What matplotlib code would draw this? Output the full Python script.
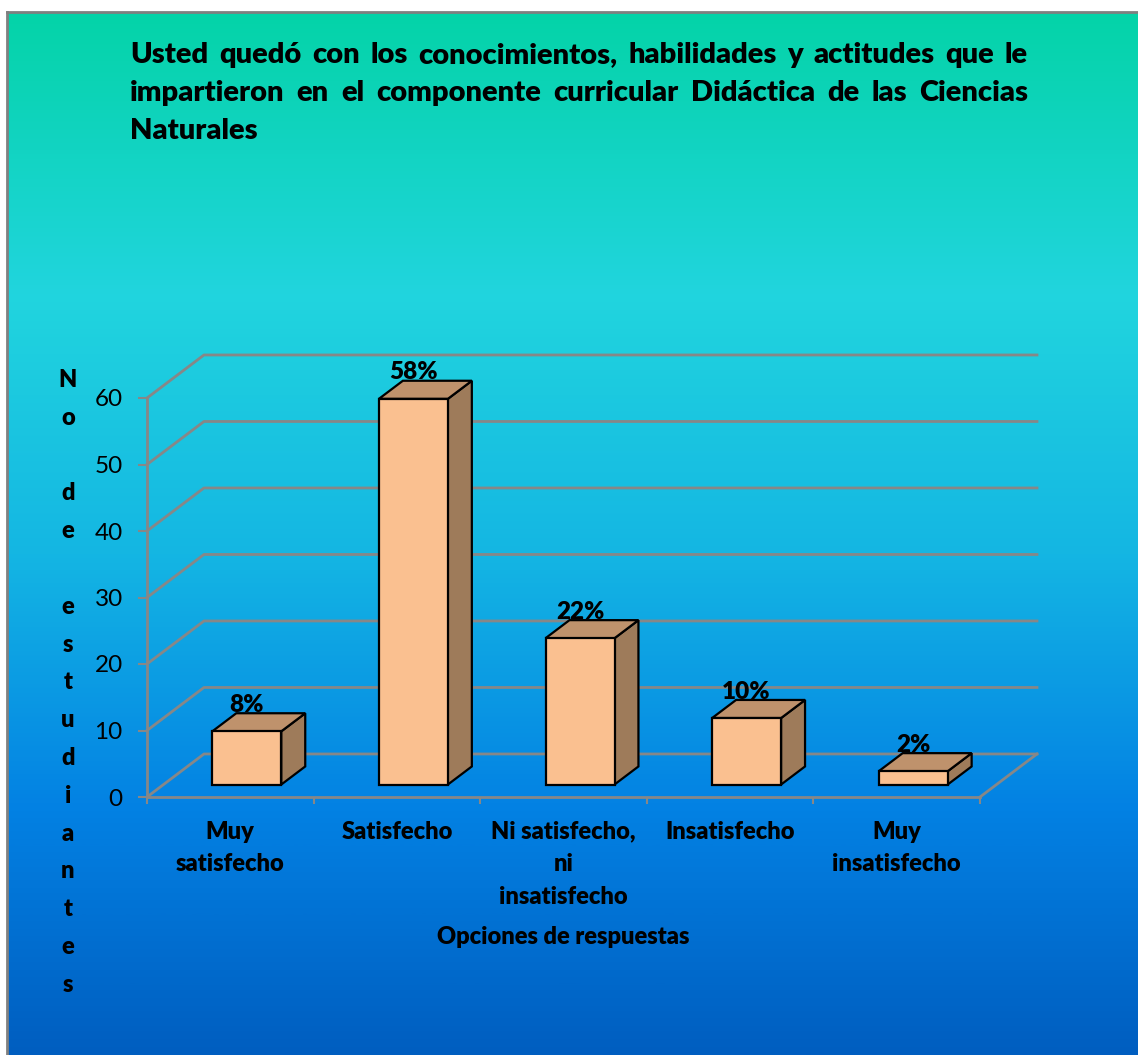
import numpy as np
import matplotlib

matplotlib.use("Agg")
import matplotlib.pyplot as plt
from matplotlib.colors import LinearSegmentedColormap
from matplotlib.patches import Polygon, Rectangle

categories = ["Muy\nsatisfecho", "Satisfecho", "Ni satisfecho,\nni\ninsatisfecho",
              "Insatisfecho", "Muy\ninsatisfecho"]
values = [8, 58, 22, 10, 2]
value_labels = ["8%", "58%", "22%", "10%", "2%"]
yticks = [0, 10, 20, 30, 40, 50, 60]
title_lines = [
    "Usted quedó con los conocimientos, habilidades y actitudes que le",
    "impartieron en el componente curricular Didáctica de las Ciencias",
    "Naturales",
]
ylabel = "No de estudiantes"
xlabel = "Opciones de respuestas"

W, H = 1138, 1055
FONT = "Lato"
BOLD = "heavy"
GRID = "#878787"
FRONT, SIDE, TOP = "#FAC090", "#9E7B5A", "#BF926C"
DX, DY = 0.342, 6.47        # depth of the 3-D floor, in data units
BW = 0.414                  # bar width in categories
F0, F1 = 0.29, 0.71         # bar depth span as fraction of floor depth

plt.rcParams["font.family"] = [FONT, "DejaVu Sans"]
fig = plt.figure(figsize=(W / 100, H / 100), dpi=100)

# gradient background with grey frame
bg = fig.add_axes([7 / W, 0, 1 - 7 / W, 1 - 12 / H])
cmap = LinearSegmentedColormap.from_list("bg", [
    (0.0, "#04D3A8"), (0.27, "#21D5DE"), (0.52, "#14B6E3"),
    (0.76, "#0382E4"), (1.0, "#005EC0")])
grad = np.linspace(0, 1, 512).reshape(-1, 1)
bg.imshow(grad, cmap=cmap, aspect="auto", extent=(0, 1, 0, 1), origin="upper")
bg.set_xlim(0, 1)
bg.set_ylim(0, 1)
bg.set_xticks([])
bg.set_yticks([])
for s in ("right", "bottom"):
    bg.spines[s].set_visible(False)
for s in ("left", "top"):
    bg.spines[s].set_color("#808080")
    bg.spines[s].set_linewidth(2)

# main plot axes: front plane x -0.5..4.5 -> 147..980 px, y 0..60 -> 797..398 px
px_cat = (980 - 147) / 5
px_val = (797 - 398) / 60
xmax, ymax = 4.95, 68
ax = fig.add_axes([147 / W, (H - 797) / H, (xmax + 0.5) * px_cat / W, ymax * px_val / H])
ax.patch.set_alpha(0)
ax.set_xlim(-0.5, xmax)
ax.set_ylim(0, ymax)
for s in ("top", "right"):
    ax.spines[s].set_visible(False)
ax.spines["left"].set_bounds(0, 60)
ax.spines["bottom"].set_bounds(-0.5, 4.5)
for s in ("left", "bottom"):
    ax.spines[s].set_color(GRID)
    ax.spines[s].set_linewidth(2)

ax.set_yticks(yticks)
ax.set_yticklabels([str(t) for t in yticks], fontsize=17.5)
ax.tick_params(axis="y", direction="out", length=6.5, width=1.5, color=GRID, pad=11)

xs = np.arange(len(categories))
ax.set_xticks(np.arange(-0.5, len(categories)), labels=[""] * (len(categories) + 1))
ax.set_xticks(xs, labels=categories, minor=True)
ax.tick_params(axis="x", which="major", direction="out", length=5, width=1.5, color=GRID)
ax.tick_params(axis="x", which="minor", length=0, pad=17)
for t in ax.get_xticklabels(minor=True):
    t.set_fontsize(17)
    t.set_fontweight(BOLD)
    t.set_linespacing(1.6)

# back wall and floor grid
for v in yticks:
    ax.plot([-0.5, -0.5 + DX, 4.5 + DX], [v, v + DY, v + DY], color=GRID, lw=2,
            clip_on=False, zorder=1)
ax.plot([4.5, 4.5 + DX], [0, DY], color=GRID, lw=2, clip_on=False, zorder=1)

# 3-D bars
dxd, dyd = (F1 - F0) * DX, (F1 - F0) * DY
for x, v, lab in zip(xs, values, value_labels):
    x0 = x - BW / 2 + F0 * DX
    x1 = x + BW / 2 + F0 * DX
    yb = F0 * DY
    yt = v + yb
    ax.add_patch(Polygon([(x1, yb), (x1 + dxd, yb + dyd), (x1 + dxd, yt + dyd), (x1, yt)],
                         closed=True, fc=SIDE, ec="black", lw=1.6, zorder=3, clip_on=False))
    ax.add_patch(Polygon([(x0, yt), (x0 + dxd, yt + dyd), (x1 + dxd, yt + dyd), (x1, yt)],
                         closed=True, fc=TOP, ec="black", lw=1.6, zorder=3, clip_on=False))
    ax.add_patch(Rectangle((x0, yb), x1 - x0, v, fc=FRONT, ec="black", lw=1.6, zorder=4,
                           clip_on=False))
    ax.text(x + F0 * DX, v + F1 * DY + 0.2, lab, ha="center", va="baseline", fontsize=17.5,
            fontweight=BOLD, zorder=5)

# vertical stacked y-axis title
for k, ch in enumerate(ylabel):
    if ch != " ":
        fig.text(68 / W, 1 - (387 + k * 37.8) / H, ch, ha="center", va="baseline",
                 fontsize=17, fontweight=BOLD)

fig.text(563 / W, 1 - 944 / H, xlabel, ha="center", va="baseline", fontsize=17,
         fontweight=BOLD)

# justified title
renderer = fig.canvas.get_renderer()
tx0, tx1 = 130, 1028
fs = 21.5
words0 = title_lines[0].split()
while True:
    probe = [fig.text(0, 0, w, fontsize=fs, fontweight=BOLD) for w in words0]
    tot = sum(p.get_window_extent(renderer).width for p in probe)
    for p in probe:
        p.remove()
    if tot + 10 * (len(words0) - 1) <= tx1 - tx0 or fs <= 12:
        break
    fs -= 0.25

for li, line in enumerate(title_lines):
    yb = 1 - (63 + li * 38) / H
    words = line.split()
    arts = [fig.text(0, yb, w, fontsize=fs, fontweight=BOLD, ha="left", va="baseline")
            for w in words]
    widths = [a.get_window_extent(renderer).width for a in arts]
    last = li == len(title_lines) - 1
    gap = 8 if last or len(words) < 2 else (tx1 - tx0 - sum(widths)) / (len(words) - 1)
    x = tx0
    for a, w in zip(arts, widths):
        a.set_x(x / W)
        x += w + gap

fig.savefig("out.png", dpi=100)
